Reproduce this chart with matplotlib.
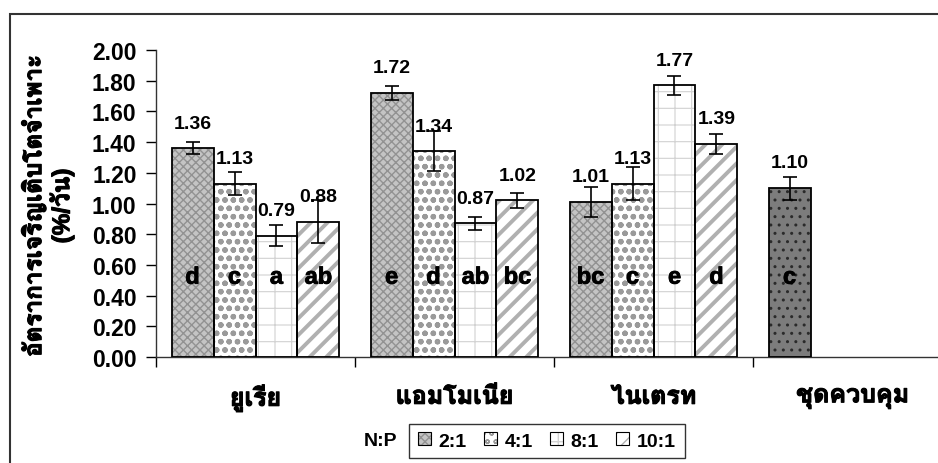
import matplotlib
matplotlib.use("Agg")
import matplotlib.pyplot as plt
import matplotlib.patheffects as pe
import numpy as np
from matplotlib import font_manager
from matplotlib.ft2font import FT2Font
from matplotlib.patches import Patch, Rectangle

# กลุ่มแหล่งไนโตรเจน และอัตราส่วน N:P
categories = ["ยูเรีย", "แอมโมเนีย", "ไนเตรท", "ชุดควบคุม"]
ratios = ["2:1", "4:1", "8:1", "10:1"]

# อัตราการเจริญเติบโตจำเพาะ (%/วัน) ของ ยูเรีย, แอมโมเนีย, ไนเตรท
rate_2_1 = [1.36, 1.72, 1.01]
rate_4_1 = [1.13, 1.34, 1.13]
rate_8_1 = [0.79, 0.87, 1.77]
rate_10_1 = [0.88, 1.02, 1.39]

err_2_1 = [0.04, 0.045, 0.10]
err_4_1 = [0.075, 0.13, 0.11]
err_8_1 = [0.07, 0.045, 0.06]
err_10_1 = [0.14, 0.05, 0.065]

sig_2_1 = ["d", "e", "bc"]
sig_4_1 = ["c", "d", "c"]
sig_8_1 = ["a", "ab", "e"]
sig_10_1 = ["ab", "bc", "d"]

control_rate = 1.10
control_err = 0.075
control_sig = "c"

y_ticks = [0.0, 0.2, 0.4, 0.6, 0.8, 1.0, 1.2, 1.4, 1.6, 1.8, 2.0]


def find_thai_font():
    # หาฟอนต์ที่มีอักษรไทย
    for f in font_manager.fontManager.ttflist:
        try:
            cmap = FT2Font(f.fname).get_charmap()
        except Exception:
            continue
        if 0x0E22 in cmap and 0x0E40 in cmap:
            return f.name
    return None


thai = find_thai_font()
latin = "Liberation Sans"
fam = [latin] + ([thai] if thai else []) + ["DejaVu Sans"]
plt.rcParams["font.family"] = fam
plt.rcParams["font.weight"] = "bold"

# ฟอนต์ไทยไม่มีตัวหนา จึงเติมเส้นขอบให้ดูหนาขึ้น
thick = [pe.withStroke(linewidth=0.8, foreground="black")]
letter_fx = [pe.withStroke(linewidth=0.6, foreground="black")]

fig = plt.figure(figsize=(9.38, 4.64), dpi=100)
W, H = 938, 464
ax = fig.add_axes([156 / W, 106 / H, (952 - 156) / W, 307 / H])

width = 0.211
offsets = (np.arange(4) - 1.5) * width
x = np.arange(3)

styles = [
    # facecolor, hatch, hatch colour, hatch linewidth
    ("#c4c4c4", "xxxx", "#929292", 1.0),
    ("white", "oo", "#9a9a9a", 1.6),
    ("white", "+", "#d2d2d2", 0.8),
    ("white", "//", "#b0b0b0", 2.8),
]
control_style = ("#7c7c7c", "..", "#2a2a2a", 1.0)


def hatched_bar(xs, vals, style):
    fc, hatch, hc, hlw = style
    bars = ax.bar(xs, vals, width, color=fc, edgecolor=hc, hatch=hatch, linewidth=0, zorder=2)
    for b in bars:
        if hasattr(b, "set_hatch_linewidth"):
            b.set_hatch_linewidth(hlw)
    ax.bar(xs, vals, width, fill=False, edgecolor="black", linewidth=1.3, zorder=3)
    return bars


def bar_labels(xs, vals, sigs):
    for xi, v, s in zip(xs, vals, sigs):
        ax.annotate(f"{v:.2f}", (xi, v), xytext=(0, 12), textcoords="offset points",
                    ha="center", va="bottom", fontsize=14, fontweight="bold", zorder=5)
        ax.text(xi, 0.52, s, ha="center", va="center", fontsize=17, fontweight="bold",
                zorder=5, path_effects=letter_fx)


rates = [rate_2_1, rate_4_1, rate_8_1, rate_10_1]
errs = [err_2_1, err_4_1, err_8_1, err_10_1]
sigs = [sig_2_1, sig_4_1, sig_8_1, sig_10_1]

for i in range(4):
    xs = x + offsets[i]
    hatched_bar(xs, rates[i], styles[i])
    ax.errorbar(xs, rates[i], yerr=errs[i], fmt="none", ecolor="black",
                elinewidth=1.2, capsize=5, capthick=1.2, zorder=4)
    bar_labels(xs, rates[i], sigs[i])

# ชุดควบคุม
cx = 3 + offsets[0]
hatched_bar([cx], [control_rate], control_style)
ax.errorbar([cx], [control_rate], yerr=[control_err], fmt="none", ecolor="black",
            elinewidth=1.2, capsize=5, capthick=1.2, zorder=4)
bar_labels([cx], [control_rate], [control_sig])

ax.set_xlim(-0.5, 3.5)
ax.set_ylim(0, 2.0)
ax.set_yticks(y_ticks)
ax.set_yticklabels([f"{t:.2f}" for t in y_ticks], fontsize=16.5, fontweight="bold")
ax.tick_params(axis="y", direction="out", length=7, width=1, pad=7)

ax.set_xticks(np.arange(-0.5, 3.6, 1.0))
ax.set_xticklabels([])
ax.set_xticks(np.arange(4), minor=True)
ax.set_xticklabels(categories, minor=True, fontsize=18, fontweight="bold")
ax.tick_params(axis="x", which="major", direction="out", length=7, width=1)
ax.tick_params(axis="x", which="minor", length=0, pad=20)
for t in ax.get_xticklabels(minor=True):
    t.set_path_effects(thick)

for side in ("top", "right"):
    ax.spines[side].set_visible(False)
for side in ("left", "bottom"):
    ax.spines[side].set_linewidth(1)
    ax.spines[side].set_color("#333333")

ylab = fig.text(47 / W, 1 - 207 / H, "อัตราการเจริญเติบโตจำเพาะ\n(%/วัน)", rotation=90,
                ha="center", va="center", ma="center", fontsize=17.5, fontweight="bold",
                linespacing=1.15)
ylab.set_path_effects(thick)

# คำอธิบายสัญลักษณ์
handles = []
for fc, hatch, hc, hlw in styles:
    fill = Patch(facecolor=fc, edgecolor=hc, hatch=hatch, linewidth=0)
    edge = Patch(fill=False, edgecolor="black", linewidth=0.8)
    handles.append((fill, edge))
leg = fig.legend(handles, ratios, ncol=4, loc="center", bbox_to_anchor=(547 / W, 1 - 442 / H),
                 fontsize=14, frameon=True, fancybox=False, handlelength=0.65, handleheight=0.65,
                 handletextpad=0.4, columnspacing=0.9, borderpad=0.45)
leg.get_frame().set_edgecolor("black")
leg.get_frame().set_linewidth(1)
for t in leg.get_texts():
    t.set_fontweight("bold")
fig.text(380 / W, 1 - 442 / H, "N:P", ha="center", va="center", fontsize=14, fontweight="bold")

# กรอบรอบรูป
fig.add_artist(Rectangle((10 / W, -0.1), 1.0, 1.1 - 15 / H, transform=fig.transFigure,
                         fill=False, edgecolor="#333333", linewidth=1.5))

fig.savefig("out.png", dpi=100)
